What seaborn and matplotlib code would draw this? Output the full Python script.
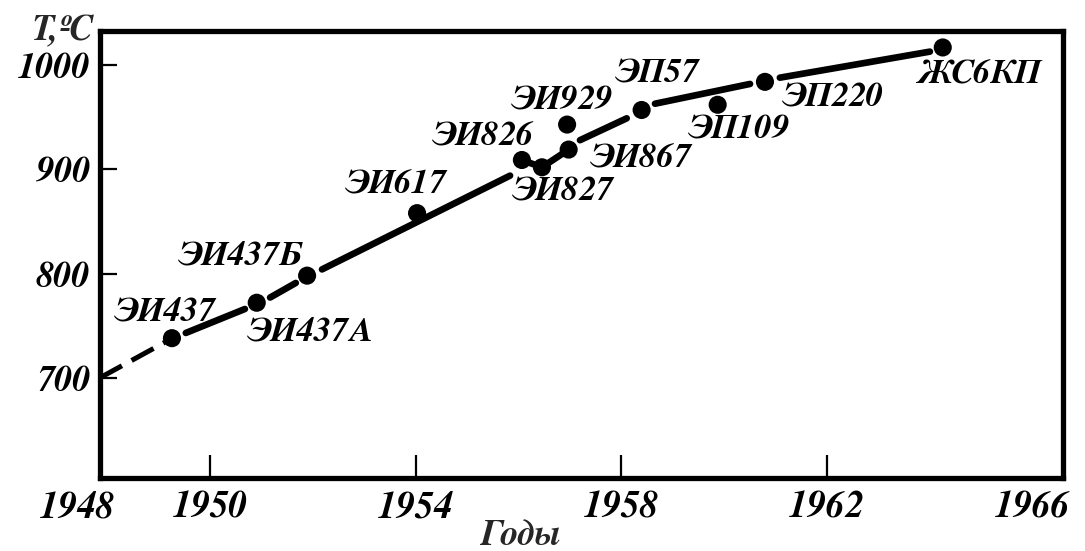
import matplotlib
matplotlib.use("Agg")
import matplotlib.pyplot as plt
import matplotlib.transforms as mtransforms
from matplotlib import font_manager as fm
import pandas as pd
import seaborn as sns

# Heat-resistant alloys: year of introduction and working temperature
alloys = ["ЭИ437", "ЭИ437А", "ЭИ437Б", "ЭИ617", "ЭИ826", "ЭИ827",
          "ЭИ929", "ЭИ867", "ЭП57", "ЭП109", "ЭП220", "ЖС6КП"]
years = [1949.26, 1950.91, 1951.89, 1954.03, 1956.07, 1956.46,
         1956.95, 1956.98, 1958.40, 1959.88, 1960.80, 1964.26]
temps = [738, 772, 798, 858, 909, 902, 943, 919, 957, 962, 984, 1017]

# Hand-drawn trend line, broken into pieces between the points
trend_seg = ["a", "a", "b", "b", "c", "c", "d", "d", "e", "e", "e",
             "f", "f", "g", "g", "h", "h"]
trend_year = [1947.86, 1949.12, 1949.53, 1950.68, 1951.17, 1951.67,
              1952.18, 1955.84, 1956.07, 1956.46, 1956.98,
              1957.20, 1958.11, 1958.66, 1960.51, 1961.09, 1964.01]
trend_temp = [700, 734, 743, 766, 777, 791, 804, 894, 909, 902, 919,
              928, 949, 963, 982, 988, 1013]

x_ticks = [1948, 1950, 1954, 1958, 1962, 1966]
y_ticks = [700, 800, 900, 1000]

# label placement relative to each point, in pixels
label_dx = [-8, 53, -67, -22, -39, 21, -6, 72, 15, 21, 67, 35]
label_dy = [26, -29, 20, 28, 23, -25, 24, -9, 36, -25, -16, -27]

sns.set_theme(style="white")
plt.rcParams["font.family"] = ["FreeSerif", "Liberation Serif", "DejaVu Serif"]

bi_path = fm.findfont(fm.FontProperties(family=["FreeSerif", "Liberation Serif"],
                                        style="italic", weight="bold"))


def bold_italic(size):
    return fm.FontProperties(fname=bi_path, size=size)


W, H = 1085, 551
fig = plt.figure(figsize=(W / 100, H / 100), dpi=100)
fig.patch.set_facecolor("white")
ax = fig.add_axes([100 / W, 1 - 478 / H, (1063 - 100) / W, (478 - 31) / H])
ax.set_facecolor("white")

trend = pd.DataFrame({"seg": trend_seg, "year": trend_year, "temp": trend_temp})
first = trend[trend["seg"] == "a"]
rest = trend[trend["seg"] != "a"]

sns.lineplot(data=first, x="year", y="temp", ax=ax, color="black",
             lw=3.6, dashes=(5, 2.2), sort=False, estimator=None,
             legend=False, solid_capstyle="butt")
sns.lineplot(data=rest, x="year", y="temp", units="seg", ax=ax,
             color="black", lw=4.8, sort=False, estimator=None,
             legend=False, solid_capstyle="round")

sns.scatterplot(x=years, y=temps, ax=ax, s=170, color="black",
                edgecolor="none", zorder=3, legend=False)

for name, x, y, dx, dy in zip(alloys, years, temps, label_dx, label_dy):
    ax.annotate(name, (x, y), xytext=(dx, dy), textcoords="offset pixels",
                ha="center", va="center", color="black",
                fontproperties=bold_italic(25))

ax.set_xlim(1947.86, 1966.60)
ax.set_ylim(603.8, 1032.8)
ax.set_xticks(x_ticks)
ax.set_yticks(y_ticks)
ax.set_xticklabels([str(v) for v in x_ticks], fontproperties=bold_italic(27))
ax.set_yticklabels([str(v) for v in y_ticks], fontproperties=bold_italic(26))
ax.set_xlabel("")
ax.set_ylabel("")

ax.tick_params(axis="x", direction="in", length=16.5, width=1.6,
               pad=9, colors="black", bottom=True, top=False)
ax.tick_params(axis="y", direction="in", length=12, width=1.6,
               pad=7, colors="black", left=True, right=False)

xt = ax.xaxis.get_major_ticks()
xt[0].tick1line.set_visible(False)
xt[-1].tick1line.set_visible(False)

shift = mtransforms.ScaledTranslation(-0.30, 0, fig.dpi_scale_trans)
first_lab = ax.get_xticklabels()[0]
first_lab.set_transform(first_lab.get_transform() + shift)

for side in ["left", "right", "top", "bottom"]:
    ax.spines[side].set_visible(True)
    ax.spines[side].set_color("black")
    ax.spines[side].set_linewidth(3.8)

fig.text(62 / W, 1 - 31 / H, "T,ºC", ha="center", va="center",
         fontproperties=bold_italic(26))
fig.text(520 / W, 1 - 536 / H, "Годы", ha="center", va="center",
         fontproperties=bold_italic(26))

fig.savefig("out.png", dpi=100, facecolor="white")
